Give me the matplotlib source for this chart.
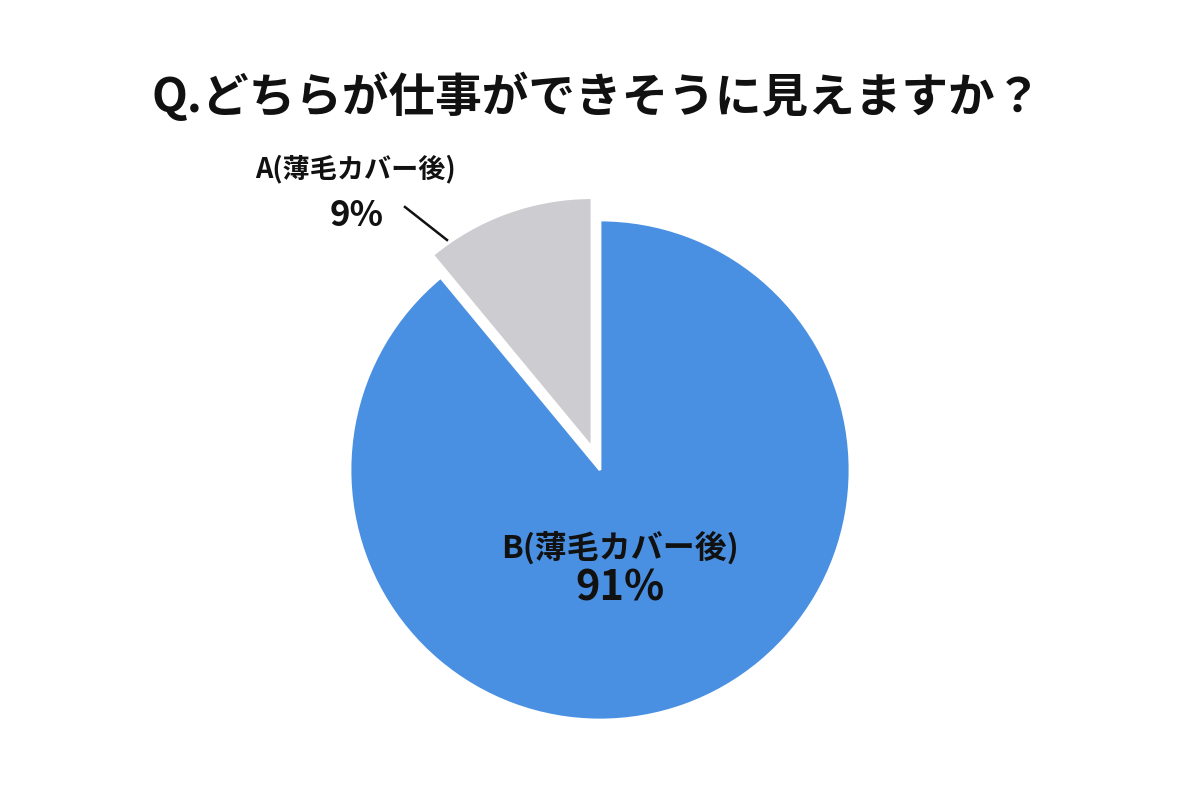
import matplotlib
matplotlib.use("Agg")
import matplotlib.pyplot as plt

plt.rcParams['font.family'] = ['Noto Sans CJK JP', 'DejaVu Sans']

title = "Q.どちらが仕事ができそうに見えますか？"
categories = ["B(薄毛カバー後)", "A(薄毛カバー後)"]
pct_labels = ["91%", "9%"]
# wedge sizes as drawn in the reference picture
sizes = [89, 11]
colors = ["#4A90E2", "#CDCCD0"]

fig = plt.figure(figsize=(12, 8), dpi=100)
ax = fig.add_axes([0, 0, 1, 1])

ax.pie(sizes, colors=colors, startangle=90, counterclock=False,
       explode=[0, 0.095], radius=1.0, center=(0, 0),
       wedgeprops=dict(edgecolor='white', linewidth=2))
ax.set_aspect('auto')
ax.set_xlim(-2.4, 2.4)
ax.set_ylim(-1.32, 1.88)
ax.axis('off')

# B label inside
ax.text(0.08, -0.312, categories[0], ha='center', va='center',
        fontsize=23, fontweight='bold', color='#111111')
ax.text(0.08, -0.475, pct_labels[0], ha='center', va='center',
        fontsize=30, fontweight='bold', color='#111111')

# A label outside
ax.text(-0.98, 1.205, categories[1], ha='center', va='center',
        fontsize=19.5, fontweight='bold', color='#111111')
ax.text(-0.975, 1.02, pct_labels[1], ha='center', va='center',
        fontsize=25, fontweight='bold', color='#111111')
ax.plot([-0.78, -0.612], [1.052, 0.92], color='#111111', linewidth=1.8)

fig.text(0.497, 1 - 97 / 800, title, ha='center', va='center',
         fontsize=33.6, fontweight='bold', color='#111111')

fig.savefig("out.png", dpi=100, facecolor='white')
